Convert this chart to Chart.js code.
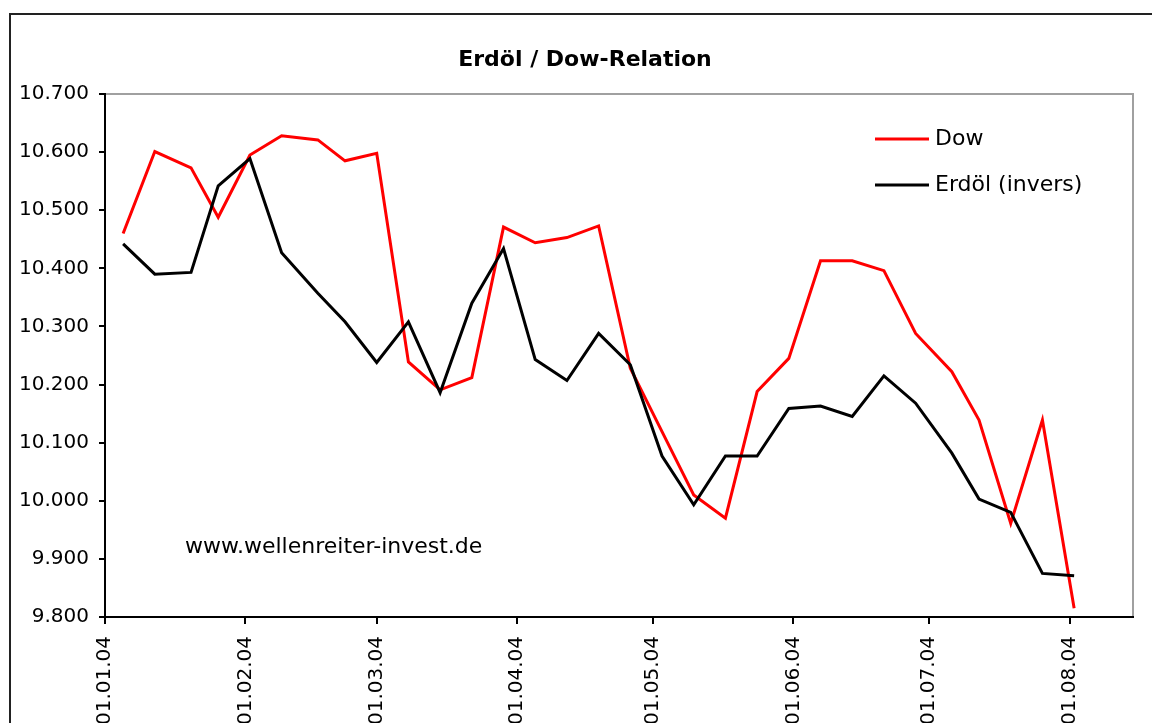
<!DOCTYPE html>
<html><head><meta charset="utf-8">
<script src="https://cdn.jsdelivr.net/npm/chart.js@4.4.1/dist/chart.umd.min.js"></script>
<style>html,body{margin:0;padding:0;background:#fff;overflow:hidden}#wrap{width:1152px;height:723px;position:relative}</style>
</head><body><div id="wrap"><canvas id="c" width="1152" height="723"></canvas></div>
<script>
// ---- data ----
const weekDates = ['05.01.04','12.01.04','20.01.04','26.01.04','02.02.04','09.02.04','17.02.04','23.02.04',
  '01.03.04','08.03.04','15.03.04','22.03.04','29.03.04','05.04.04','12.04.04','19.04.04','26.04.04',
  '03.05.04','10.05.04','17.05.04','24.05.04','31.05.04','07.06.04','14.06.04','21.06.04','28.06.04',
  '06.07.04','12.07.04','19.07.04','26.07.04','02.08.04'];
const dowValues = [10460,10601,10573,10488,10595,10628,10621,10585,10598,10239,10191,10212,10471,10444,10453,10473,
  10228,10119,10010,9970,10188,10245,10413,10413,10396,10288,10222,10139,9961,10139,9815];
const erdoelValues = [10442,10390,10393,10542,10589,10427,10357,10308,10238,10308,10186,10340,10434,10243,10207,10288,
  10234,10077,9993,10077,10077,10159,10163,10145,10215,10168,10082,10003,9980,9875,9871];
const monthTickLabels = ['01.01.04','01.02.04','01.03.04','01.04.04','01.05.04','01.06.04','01.07.04','01.08.04'];
const axisStart = '01.01.04', axisEnd = '15.08.04';
const yMin = 9800, yMax = 10700, yStep = 100;
const seriesNames = ['Dow','Erdöl (invers)'];
const titleText = 'Erdöl / Dow-Relation';
const watermark = 'www.wellenreiter-invest.de';

function dayOf(s){const [d,m,y]=s.split('.').map(Number);return (Date.UTC(2000+y,m-1,d)-Date.UTC(2004,0,1))/864e5;}
function fmt(v){const t=Math.floor(v/1000), r=Math.round(v-t*1000);return t+'.'+String(r).padStart(3,'0');}
const FONT='DejaVu Sans';

const decor = {
  id:'decor',
  beforeDraw(chart){
    const ctx=chart.ctx; ctx.save();
    ctx.fillStyle='#fff'; ctx.fillRect(0,0,chart.width,chart.height);
    ctx.strokeStyle='#222'; ctx.lineWidth=2;
    ctx.beginPath(); ctx.moveTo(10,chart.height+2); ctx.lineTo(10,14); ctx.lineTo(chart.width+2,14); ctx.stroke();
    const a=chart.chartArea;
    ctx.strokeStyle='#a0a0a0'; ctx.lineWidth=2;
    ctx.beginPath(); ctx.moveTo(a.left,a.top); ctx.lineTo(a.right,a.top); ctx.lineTo(a.right,a.bottom); ctx.stroke();
    ctx.restore();
  },
  afterDraw(chart){
    const ctx=chart.ctx; ctx.save();
    ctx.fillStyle='#000';
    ctx.font='bold 22px "'+FONT+'"'; ctx.textAlign='center'; ctx.textBaseline='middle';
    ctx.fillText(titleText,585,60);
    ctx.font='22px "'+FONT+'"'; ctx.textBaseline='middle'; ctx.textAlign='left';
    const ys=[139,185];
    chart.data.datasets.forEach((ds,i)=>{
      ctx.strokeStyle=ds.borderColor; ctx.lineWidth=3;
      ctx.beginPath(); ctx.moveTo(875,ys[i]); ctx.lineTo(929,ys[i]); ctx.stroke();
      ctx.fillText(ds.label,935,ys[i]);
    });
    ctx.textBaseline='alphabetic';
    ctx.fillText(watermark,185,553);
    ctx.restore();
  }
};

const toPts = vals => vals.map((v,i)=>({x:dayOf(weekDates[i]),y:v}));
new Chart(document.getElementById('c'),{
  type:'line',
  data:{datasets:[
    {label:seriesNames[0],data:toPts(dowValues),borderColor:'#ff0000',borderWidth:3,pointRadius:0,tension:0,order:1},
    {label:seriesNames[1],data:toPts(erdoelValues),borderColor:'#000000',borderWidth:3,pointRadius:0,tension:0,order:0}
  ]},
  options:{
    responsive:false, animation:false, devicePixelRatio:1,
    layout:{padding:{left:0,right:19,top:94,bottom:0}},
    plugins:{legend:{display:false}, tooltip:{enabled:false}, title:{display:false}},
    scales:{
      x:{type:'linear',min:dayOf(axisStart),max:dayOf(axisEnd),bounds:'data',
        afterBuildTicks:s=>{s.ticks=monthTickLabels.map(l=>({value:dayOf(l)}));},
        afterFit:s=>{s.height=106;},
        grid:{drawOnChartArea:false,drawTicks:true,tickLength:7,color:'#000',lineWidth:2},
        border:{display:true,color:'#000',width:2},
        ticks:{autoSkip:false,maxRotation:90,minRotation:90,padding:12,color:'#000',font:{family:FONT,size:20},
          callback:(v,i)=>monthTickLabels[i]}
      },
      y:{type:'linear',min:yMin,max:yMax,
        afterFit:s=>{s.width=105;},
        grid:{drawOnChartArea:false,drawTicks:true,tickLength:6,color:'#000',lineWidth:2},
        border:{display:true,color:'#000',width:2},
        ticks:{stepSize:yStep,padding:10,color:'#000',font:{family:FONT,size:20},callback:v=>fmt(v)}
      }
    }
  },
  plugins:[decor]
});
</script></body></html>
